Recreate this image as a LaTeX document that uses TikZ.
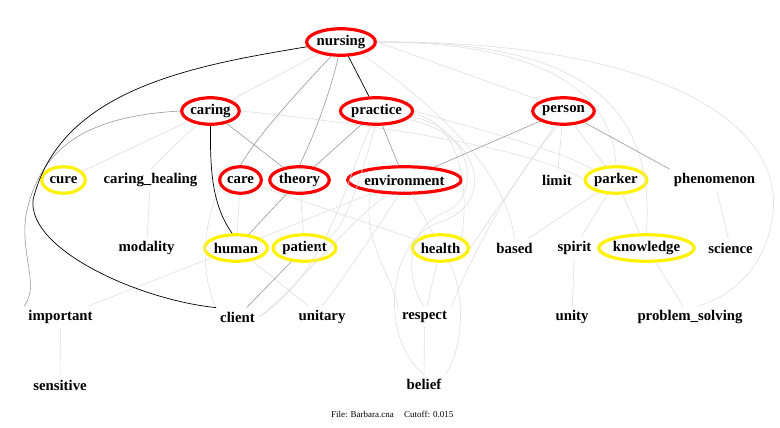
\documentclass[tikz,border=0pt]{standalone}
\usepackage{fontspec}
\setmainfont{Liberation Serif}
\usetikzlibrary{shapes.geometric}
\begin{document}
\begin{tikzpicture}[x=1pt,y=-1pt,
  lbl/.style={font=\fontsize{14.8}{16}\selectfont\bfseries},
  rnode/.style={lbl, ellipse, draw=red, line width=3.2pt, inner sep=0pt, minimum height=26.5},
  ynode/.style={lbl, ellipse, draw=yellow, line width=3.2pt, inner sep=0pt, minimum height=26.5},
  tnode/.style={lbl, inner sep=4pt},
  foot/.style={font=\fontsize{9}{10}\selectfont, inner sep=0pt, anchor=west},
  dk/.style={draw=black, line width=0.7pt},
  md/.style={draw=black!40, line width=0.6pt},
  lt/.style={draw=black!12, line width=0.6pt},
]
\fill[white] (0,0) rectangle (780,428);
\useasboundingbox (0,0) rectangle (780,428);

% ellipse nodes
\node[rnode, minimum width=62.5] (nursing) at (341,42) {nursing};
\node[rnode, minimum width=57.5] (caring) at (210.5,111) {caring};
\node[rnode, minimum width=67.5] (practice) at (376.5,111) {practice};
\node[rnode, minimum width=61.5] (person) at (563.5,111) {person};
\node[ynode, minimum width=43.5] (cure) at (63.5,180) {cure};
\node[rnode, minimum width=41.5] (care) at (240.5,180) {care};
\node[rnode, minimum width=59.5] (theory) at (299.5,180) {theory};
\node[rnode, minimum width=93.5] (environment) at (404.5,180) {environment};
\node[ynode, minimum width=60.5] (parker) at (616,180) {parker};
\node[ynode, minimum width=60.5] (human) at (236,248) {human};
\node[ynode, minimum width=61.5] (patient) at (304.5,248) {patient};
\node[ynode, minimum width=55.5] (health) at (440.5,248) {health};
\node[ynode, minimum width=87.5] (knowledge) at (646.5,248) {knowledge};

% text nodes
\node[tnode] (caringhealing) at (150.5,180) {caring\_healing};
\node[tnode] (limit) at (557,180) {limit};
\node[tnode] (phenomenon) at (714.5,180) {phenomenon};
\node[tnode] (modality) at (146.5,248) {modality};
\node[tnode] (based) at (514.5,248) {based};
\node[tnode] (spirit) at (574.5,248) {spirit};
\node[tnode] (science) at (730.5,248) {science};
\node[tnode] (important) at (60.5,317) {important};
\node[tnode] (client) at (237.5,317) {client};
\node[tnode] (unitary) at (322,317) {unitary};
\node[tnode] (respect) at (424.5,317) {respect};
\node[tnode] (unity) at (572,317) {unity};
\node[tnode] (problemsolving) at (690,317) {problem\_solving};
\node[tnode] (sensitive) at (60,385) {sensitive};
\node[tnode] (belief) at (424,384) {belief};

\node[foot] (file) at (331,414) {File: Barbara.cna};
\node[foot] (cutoff) at (404,414) {Cutoff: 0.015};

% light edges
\draw[lt] (nursing) -- (caring);
\draw[lt] (nursing.east) -- (person.north west);
\draw[lt] (nursing.-30) .. controls (440,110) and (505,170) .. (based.north);
\draw[lt] (nursing.east) .. controls (520,42) and (612,80) .. (parker.north);
\draw[lt] (nursing.east) .. controls (590,40) and (655,110) .. (knowledge.north);
\draw[lt] (nursing.east) .. controls (650,40) and (790,120) .. (772,220) .. controls (765,265) and (735,295) .. (problemsolving.55);
\draw[lt] (caring) -- (cure);
\draw[lt] (caring) -- (caringhealing.north);
\draw[lt] (caring.east) .. controls (380,125) and (540,150) .. (parker.west);
\draw[lt] (practice.east) .. controls (480,130) and (560,150) .. (parker.north west);
\draw[lt] (care) -- (human);
\draw[lt] (care) -- (health);
\draw[lt] (care.200) .. controls (205,215) and (198,270) .. (client.north west);
\draw[lt] (theory) -- (patient);
\draw[lt] (human) -- (important);
\draw[lt] (human) -- (unitary);
\draw[lt] (environment) -- (human);
\draw[lt] (environment) -- (health);
\draw[lt] (environment.220) .. controls (345,225) and (295,290) .. (client.east);
\draw[lt] (practice.250) .. controls (345,180) and (330,270) .. (client.east);
\draw[lt] (environment.250) .. controls (375,230) and (350,270) .. (unitary.north);
\draw[lt] (practice.265) .. controls (360,180) and (345,230) .. (patient.north east);
\draw[lt] (practice.-10) .. controls (470,125) and (485,195) .. (445,212) .. controls (405,228) and (405,280) .. (respect.north);
\draw[lt] (practice.-15) .. controls (485,135) and (495,205) .. (440,222) .. controls (385,240) and (380,340) .. (belief.north);
\draw[lt] (practice.-5) .. controls (460,120) and (470,190) .. (health.north east);
\draw[lt] (environment.200) .. controls (360,240) and (395,280) .. (respect.north west);
\draw[lt] (person.240) -- (health.east);
\draw[lt] (person.250) .. controls (510,180) and (470,260) .. (respect.north east);
\draw[lt] (person) -- (limit);
\draw[lt] (person) -- (parker);
\draw[lt] (parker) -- (based);
\draw[lt] (parker) -- (spirit);
\draw[lt] (parker) -- (knowledge);
\draw[lt] (phenomenon) -- (science);
\draw[lt] (spirit) -- (unity);
\draw[lt] (knowledge) -- (problemsolving);
\draw[lt] (important) -- (sensitive);
\draw[lt] (health) -- (respect);
\draw[lt] (respect) -- (belief);
\draw[lt] (health.-60) .. controls (465,290) and (465,345) .. (belief.north east);
\draw[lt] (caringhealing) -- (modality);

% medium edges
\draw[md] (nursing.235) .. controls (295,95) and (258,135) .. (care.north);
\draw[md] (nursing.260) .. controls (328,100) and (312,140) .. (theory.north);
\draw[md] (caring) -- (theory);
\draw[md] (caring.west) .. controls (90,116) and (40,145) .. (26,215) .. controls (20,255) and (40,285) .. (important.north west);
\draw[md] (practice) -- (theory);
\draw[md] (practice) -- (environment);
\draw[md] (person) -- (environment);
\draw[md] (person) -- (phenomenon.north west);
\draw[md] (theory) -- (human);
\draw[md] (patient) -- (client);

% dark edges
\draw[dk] (nursing) -- (practice);
\draw[dk] (nursing.188) .. controls (190,66) and (60,90) .. (33,200) .. controls (28,250) and (140,300) .. (client.north west);
\draw[dk] (caring.south) .. controls (210,170) and (212,205) .. (human.105);
\end{tikzpicture}
\end{document}
